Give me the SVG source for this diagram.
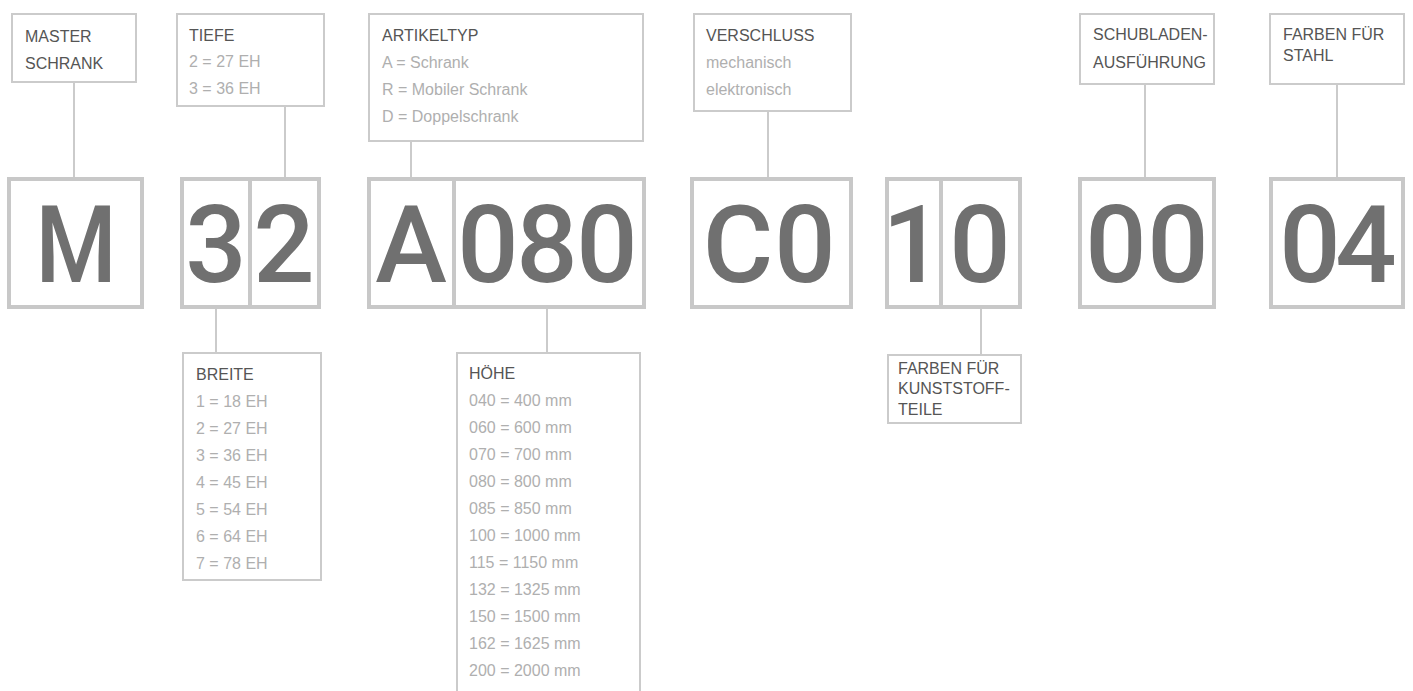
<svg xmlns="http://www.w3.org/2000/svg" width="1413" height="691" viewBox="0 0 1413 691">
<style>
.box{fill:#fff;stroke:#cbcbcb;stroke-width:2}
.big{fill:#fff;stroke:#c8c8c8;stroke-width:4}
.div{stroke:#c8c8c8;stroke-width:4}
.con{stroke:#cbcbcb;stroke-width:2;fill:none}
.t{font-family:"Liberation Sans",Arial,sans-serif;font-size:16px;fill:#555}
.i{font-family:"Liberation Sans",Arial,sans-serif;font-size:16px;fill:#afafaf}
.g{font-family:Roboto,"Liberation Sans",Arial,sans-serif;font-weight:500;font-size:108px;fill:#707070;text-anchor:middle}
</style>
<rect width="1413" height="691" fill="#fff"/>
<g id="connectors">
<line class="con" x1="74" y1="82" x2="74" y2="177"/>
<line class="con" x1="285" y1="106" x2="285" y2="177"/>
<line class="con" x1="411" y1="141" x2="411" y2="177"/>
<line class="con" x1="768" y1="111" x2="768" y2="177"/>
<line class="con" x1="1145" y1="84" x2="1145" y2="177"/>
<line class="con" x1="1337" y1="84" x2="1337" y2="177"/>
<line class="con" x1="216" y1="309" x2="216" y2="353"/>
<line class="con" x1="547" y1="309" x2="547" y2="353"/>
<line class="con" x1="981" y1="309" x2="981" y2="355"/>
</g>
<g id="master">
<rect class="box" x="12" y="14" width="124" height="68"/>
<text class="t" x="25" y="42">MASTER</text>
<text class="t" x="25" y="69">SCHRANK</text>
</g>
<g id="tiefe">
<rect class="box" x="177" y="14" width="147" height="92"/>
<text class="t" x="189" y="41">TIEFE</text>
<text class="i" x="189" y="67">2 = 27 EH</text>
<text class="i" x="189" y="94">3 = 36 EH</text>
</g>
<g id="artikeltyp">
<rect class="box" x="369" y="14" width="274" height="127"/>
<text class="t" x="382" y="41">ARTIKELTYP</text>
<text class="i" x="382" y="68">A = Schrank</text>
<text class="i" x="382" y="95">R = Mobiler Schrank</text>
<text class="i" x="382" y="122">D = Doppelschrank</text>
</g>
<g id="verschluss">
<rect class="box" x="694" y="14" width="157" height="97"/>
<text class="t" x="706" y="41">VERSCHLUSS</text>
<text class="i" x="706" y="68">mechanisch</text>
<text class="i" x="706" y="95">elektronisch</text>
</g>
<g id="schubladen">
<rect class="box" x="1080" y="14" width="134" height="70"/>
<text class="t" x="1093" y="40">SCHUBLADEN-</text>
<text class="t" x="1093" y="68">AUSFÜHRUNG</text>
</g>
<g id="stahl">
<rect class="box" x="1270" y="14" width="134" height="70"/>
<text class="t" x="1283" y="40">FARBEN FÜR</text>
<text class="t" x="1283" y="61">STAHL</text>
</g>
<g id="code-m">
<rect class="big" x="9" y="179" width="133" height="128"/>
<text class="g" transform="translate(76 0) scale(0.86 1)" x="0" y="282">M</text>
</g>
<g id="code-32">
<rect class="big" x="182" y="179" width="137" height="128"/>
<line class="div" x1="250" y1="179" x2="250" y2="307"/>
<text class="g" y="282"><tspan x="216">3</tspan><tspan x="284">2</tspan></text>
</g>
<g id="code-a080">
<rect class="big" x="369" y="179" width="275" height="128"/>
<line class="div" x1="454" y1="179" x2="454" y2="307"/>
<text class="g" y="282"><tspan x="411">A</tspan><tspan x="488">0</tspan><tspan x="547">8</tspan><tspan x="607">0</tspan></text>
</g>
<g id="code-c0">
<rect class="big" x="692" y="179" width="159" height="128"/>
<text class="g" y="282"><tspan x="738">C</tspan><tspan x="805">0</tspan></text>
</g>
<g id="code-10">
<rect class="big" x="887" y="179" width="133" height="128"/>
<line class="div" x1="941" y1="179" x2="941" y2="307"/>
<text class="g" y="282"><tspan x="913">1</tspan><tspan x="980">0</tspan></text>
</g>
<g id="code-00">
<rect class="big" x="1080" y="179" width="134" height="128"/>
<text class="g" y="282"><tspan x="1116">0</tspan><tspan x="1178">0</tspan></text>
</g>
<g id="code-04">
<rect class="big" x="1271" y="179" width="132" height="128"/>
<text class="g" y="282"><tspan x="1310">0</tspan><tspan x="1366">4</tspan></text>
</g>
<g id="breite">
<rect class="box" x="183" y="353" width="138" height="227"/>
<text class="t" x="196" y="380">BREITE</text>
<text class="i" x="196" y="407">1 = 18 EH</text>
<text class="i" x="196" y="434">2 = 27 EH</text>
<text class="i" x="196" y="461">3 = 36 EH</text>
<text class="i" x="196" y="488">4 = 45 EH</text>
<text class="i" x="196" y="515">5 = 54 EH</text>
<text class="i" x="196" y="542">6 = 64 EH</text>
<text class="i" x="196" y="569">7 = 78 EH</text>
</g>
<g id="hoehe">
<path class="box" d="M457 692 V353 H640 V692"/>
<text class="t" x="469" y="379">HÖHE</text>
<text class="i" x="469" y="406">040 = 400 mm</text>
<text class="i" x="469" y="433">060 = 600 mm</text>
<text class="i" x="469" y="460">070 = 700 mm</text>
<text class="i" x="469" y="487">080 = 800 mm</text>
<text class="i" x="469" y="514">085 = 850 mm</text>
<text class="i" x="469" y="541">100 = 1000 mm</text>
<text class="i" x="469" y="568">115 = 1150 mm</text>
<text class="i" x="469" y="595">132 = 1325 mm</text>
<text class="i" x="469" y="622">150 = 1500 mm</text>
<text class="i" x="469" y="649">162 = 1625 mm</text>
<text class="i" x="469" y="676">200 = 2000 mm</text>
</g>
<g id="kunststoff">
<rect class="box" x="888" y="355" width="133" height="68"/>
<text class="t" x="898" y="374">FARBEN FÜR</text>
<text class="t" x="898" y="394">KUNSTSTOFF-</text>
<text class="t" x="898" y="415">TEILE</text>
</g>
</svg>
